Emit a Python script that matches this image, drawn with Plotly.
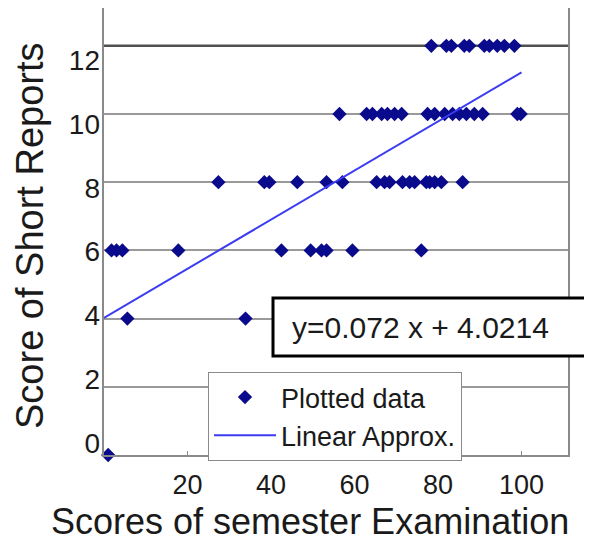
import plotly.graph_objects as go

# Exam scores (x) grouped by short-report score (y)
exam_at_12 = [78.4, 82.0, 83.2, 86.3, 87.5, 91.1, 92.3, 94.2, 95.9, 98.3]
exam_at_10 = [56.4, 62.9, 64.3, 66.5, 67.9, 69.6, 71.3, 77.5, 79.2, 81.6, 83.5, 85.1,
              86.8, 88.7, 90.7, 99.0, 99.8]
exam_at_8 = [27.4, 38.4, 39.6, 46.3, 53.3, 57.1, 65.3, 67.2, 68.4, 71.5, 73.2, 74.4,
             77.2, 78.0, 79.2, 80.8, 85.9]
exam_at_6 = [1.8, 3.0, 4.4, 17.8, 42.5, 49.5, 52.1, 53.3, 59.5, 76.0]
exam_at_4 = [5.6, 33.9]
exam_at_0 = [1.0]

report_levels = [12, 10, 8, 6, 4, 0]
exam_groups = [exam_at_12, exam_at_10, exam_at_8, exam_at_6, exam_at_4, exam_at_0]

fit_x = [0, 100]
fit_y = [4.0214, 11.2214]
equation_text = "y=0.072 x + 4.0214"

x_ticks = [20, 40, 60, 80, 100]
y_ticks = [0, 2, 4, 6, 8, 10, 12]

xs, ys = [], []
for lvl, grp in zip(report_levels, exam_groups):
    xs += grp
    ys += [lvl] * len(grp)

FONT = "Liberation Sans, Arial, sans-serif"
TXT = "#1a1a1a"

# page has an 8px body margin; work in page pixels and convert
OFF = 8
PAGE_W, PAGE_H = 592, 543
W, H = PAGE_W - OFF, PAGE_H - OFF
L, R, T, B = 104, 568, 8, 455          # plot area in page pixels
pw, ph = R - L, B - T


def px(xp):
    return (xp - L) / pw


def py(yp):
    return (B - yp) / ph


fig = go.Figure()
fig.add_trace(go.Scatter(
    x=xs, y=ys, mode="markers", name="Plotted data",
    marker=dict(symbol="diamond", size=11, color="#0A0A8C"),
    cliponaxis=False,
))
fig.add_trace(go.Scatter(
    x=fit_x, y=fit_y, mode="lines", name="Linear Approx.",
    line=dict(color="#3B3BF2", width=2),
))
# carrier trace for the tick-label axis
fig.add_trace(go.Scatter(x=[], y=[], yaxis="y2", showlegend=False, hoverinfo="skip"))

fig.update_layout(
    width=W, height=H,
    margin=dict(l=L - OFF, r=W - (R - OFF), t=T - OFF, b=H - (B - OFF)),
    paper_bgcolor="white", plot_bgcolor="white",
    font=dict(family=FONT, color=TXT),
    xaxis=dict(
        range=[0, pw / 4.175], tickvals=x_ticks, ticktext=[str(v) for v in x_ticks],
        showgrid=False, zeroline=False, showline=True, linecolor="#8a8a8a", linewidth=2,
        ticks="inside", ticklen=4, tickcolor="#8a8a8a", ticklabelstandoff=5,
        tickfont=dict(size=27, color=TXT),
    ),
    yaxis=dict(
        range=[0, ph / 34.1], tickvals=[2, 4, 6, 8, 10], showticklabels=False,
        showgrid=True, gridcolor="#9a9a9a", gridwidth=2, zeroline=False,
        showline=True, linecolor="#8a8a8a", linewidth=2, mirror=True,
    ),
    yaxis2=dict(
        overlaying="y", side="left", anchor="x",
        range=[-(12 / 31.9), (443 - T) / 31.9],
        tickvals=y_ticks, ticktext=[str(v) for v in y_ticks],
        showgrid=False, zeroline=False, showline=False, ticklabelstandoff=3,
        tickfont=dict(size=28, color=TXT),
    ),
    legend=dict(
        x=px(208), y=py(372), xanchor="left", yanchor="top",
        bgcolor="white", bordercolor="#8a8a8a", borderwidth=1,
        font=dict(size=27, color=TXT), itemwidth=62,
        tracegroupgap=0,
    ),
    showlegend=True,
)

# darker line at 12
fig.add_shape(type="line", xref="paper", yref="y", x0=0, x1=1, y0=12, y1=12,
              line=dict(color="#505050", width=2.5), layer="below")

# equation box
fig.add_shape(type="rect", xref="paper", yref="paper",
              x0=px(273), x1=px(610), y0=py(356), y1=py(298),
              line=dict(color="black", width=3), fillcolor="white", layer="above")
fig.add_annotation(xref="paper", yref="paper", x=px(290), y=py(327),
                   xanchor="left", yanchor="middle", showarrow=False,
                   text=equation_text, font=dict(size=30, color=TXT))

# axis titles
fig.add_annotation(xref="paper", yref="paper", x=px(310), y=py(521),
                   xanchor="center", yanchor="middle", showarrow=False,
                   text="Scores of semester Examination",
                   font=dict(size=36, color=TXT))
fig.add_annotation(xref="paper", yref="paper", x=px(30), y=py(236),
                   xanchor="center", yanchor="middle", showarrow=False, textangle=-90,
                   text="Score of Short Reports",
                   font=dict(size=38, color=TXT))

fig.write_html("out.html")
